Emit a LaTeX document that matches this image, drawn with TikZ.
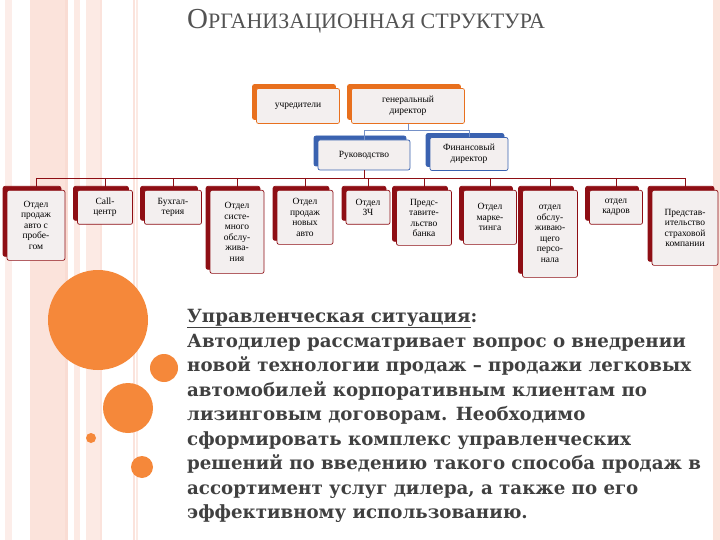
\documentclass[tikz,border=0pt]{standalone}
\usepackage{fontspec}
\setmainfont{Liberation Serif}
\newfontfamily\bodyfont{DejaVu Serif}
\usetikzlibrary{shadows}
\definecolor{orng}{HTML}{F5883A}
\definecolor{boxfill}{HTML}{F3EFEF}
\definecolor{dred}{HTML}{8E0E14}
\definecolor{topor}{HTML}{E8701E}
\definecolor{bl}{HTML}{3A62B0}
\definecolor{txt}{HTML}{404040}
\definecolor{stripe}{HTML}{FADCD2}
\definecolor{stripe2}{HTML}{F4B9A8}
\tikzset{
 bx/.style={draw=#1, fill=boxfill, rounded corners=2pt, line width=0.7pt, align=center,
  font=\fontsize{9.5}{10.5}\selectfont, inner sep=1pt,
  copy shadow={shadow xshift=-4pt, shadow yshift=4pt, fill=#1, draw=#1}},
 redbox/.style={bx=dred},
 orbox/.style={bx=topor},
 blbox/.style={bx=bl},
 redline/.style={draw=dred, line width=0.8pt},
 blline/.style={draw=bl!70, line width=0.8pt},
 circ/.style={fill=orng, draw=none},
 line/.style={anchor=base west, text=txt, font=\bodyfont\bfseries\fontsize{18.2}{21}\selectfont, inner sep=0pt}
}
\begin{document}
\begin{tikzpicture}[x=1pt,y=-1pt]
\useasboundingbox (0,0) rectangle (720,540);
% background stripes
\fill[stripe!50] (5,0) rectangle (12,540);
\fill[stripe!80] (30,0) rectangle (65,540);
\fill[stripe2!50] (65,0) rectangle (68,540);
\fill[stripe!60] (74,0) rectangle (80,540);
\fill[stripe!60] (86,0) rectangle (100,540);
\fill[stripe2!40] (100,0) rectangle (102,540);
\fill[stripe2!40] (133,0) rectangle (135,540);
\fill[stripe!60] (136,0) rectangle (138,540);
\fill[stripe!80] (713,0) rectangle (720,540);
% circles
\fill[circ] (98,320) circle (50);
\fill[circ] (164,368) circle (14);
\fill[circ] (128,408) circle (25);
\fill[circ] (91,438) circle (5);
\fill[circ] (142,467) circle (11);
% title
\node[anchor=west, text=txt!90, inner sep=0pt] (title) at (187,21)
 {\fontsize{29}{31}\selectfont О\fontsize{22}{24}\selectfont РГАНИЗАЦИОННАЯ СТРУКТУРА};
% top level
\node[orbox, minimum width=83, minimum height=35] (u) at (298,106) {учредители};
\node[orbox, minimum width=113, minimum height=35] (g) at (408,106) {генеральный\\директор};
\node[blbox, minimum width=92, minimum height=30] (r) at (364,155) {Руководство};
\node[blbox, minimum width=78, minimum height=33] (f) at (469,154) {Финансовый\\директор};
% bottom boxes
\node[redbox, minimum width=58, minimum height=70, anchor=north] (b1) at (36,190) {Отдел\\продаж\\авто с\\пробе-\\гом};
\node[redbox, minimum width=55, minimum height=34, anchor=north] (b2) at (105,190) {Call-\\центр};
\node[redbox, minimum width=57, minimum height=34, anchor=north] (b3) at (173,190) {Бухгал-\\терия};
\node[redbox, minimum width=54, minimum height=83, anchor=north] (b4) at (237,190) {Отдел\\систе-\\много\\обслу-\\жива-\\ния};
\node[redbox, minimum width=56, minimum height=54, anchor=north] (b5) at (305,190) {Отдел\\продаж\\новых\\авто};
\node[redbox, minimum width=44, minimum height=34, anchor=north] (b6) at (368,190) {Отдел\\ЗЧ};
\node[redbox, minimum width=55, minimum height=55, anchor=north] (b7) at (424,190) {Предс-\\тавите-\\льство\\банка};
\node[redbox, minimum width=53, minimum height=54, anchor=north] (b8) at (490,190) {Отдел\\марке-\\тинга};
\node[redbox, minimum width=55, minimum height=87, anchor=north] (b9) at (550,190) {отдел\\обслу-\\живаю-\\щего\\персо-\\нала};
\node[redbox, minimum width=53, minimum height=34, anchor=north] (b10) at (616,190) {отдел\\кадров};
\node[redbox, minimum width=66, minimum height=75, anchor=north] (b11) at (685,190) {Представ-\\ительство\\страховой\\компании};
% connectors
\coordinate (bl1) at (r.south |- 0,130);
\draw[blline] (g.south) -- (g.south |- bl1) -- (bl1) -- (r.north);
\draw[blline] (g.south |- bl1) -- (f.north |- bl1) -- (f.north);
\coordinate (bus) at (r.south |- 0,178);
\draw[redline] (r.south) -- (bus);
\draw[redline] (b1.north |- bus) -- (b11.north |- bus);
\foreach \i in {1,...,11} \draw[redline] (b\i.north |- bus) -- (b\i.north);
% text
\node[line] (t1) at (187,322) {\underline{Управленческая ситуация}:};
\node[line] (t2) at (187,347) {Автодилер рассматривает вопрос о внедрении};
\node[line] (t3) at (187,371) {новой технологии продаж – продажи легковых};
\node[line] (t4) at (187,396) {автомобилей корпоративным клиентам по};
\node[line] (t5) at (187,420) {лизинговым договорам. Необходимо};
\node[line] (t6) at (187,445) {сформировать комплекс управленческих};
\node[line] (t7) at (187,469) {решений по введению такого способа продаж в};
\node[line] (t8) at (187,494) {ассортимент услуг дилера, а также по его};
\node[line] (t9) at (187,518) {эффективному использованию.};
\end{tikzpicture}
\end{document}
